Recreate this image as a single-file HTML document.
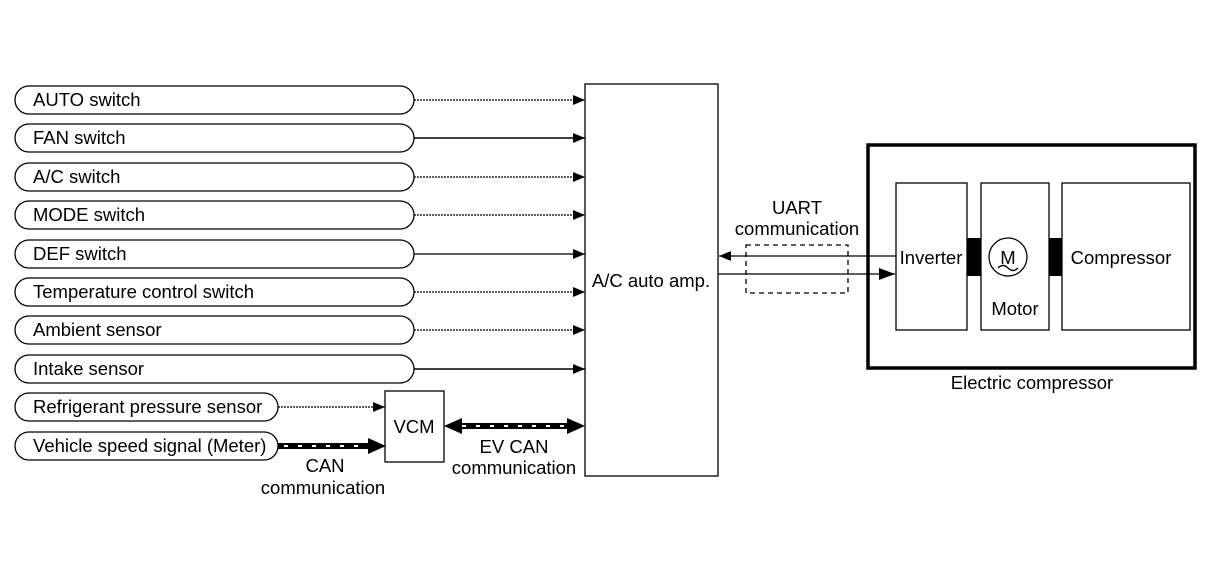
<!DOCTYPE html>
<html><head><style>body{margin:0;background:#fff}svg{display:block}text{font-family:"Liberation Sans",Arial,sans-serif;font-size:18.5px;fill:#000}</style></head>
<body>
<svg width="1216" height="582" viewBox="0 0 1216 582" xmlns="http://www.w3.org/2000/svg">
<defs>
<marker id="a" markerWidth="12" markerHeight="10" refX="12" refY="5" orient="auto" markerUnits="userSpaceOnUse"><path d="M0,0L12,5L0,10z" fill="#000"/></marker>
<marker id="b" markerWidth="16" markerHeight="12" refX="16" refY="6" orient="auto" markerUnits="userSpaceOnUse"><path d="M0,0L16,6L0,12z" fill="#000"/></marker>
</defs>
<g fill="none" stroke="#000" stroke-width="1.3">
<rect x="15" y="86" width="399" height="28" rx="14"/>
<rect x="15" y="124" width="399" height="28" rx="14"/>
<rect x="15" y="163" width="399" height="28" rx="14"/>
<rect x="15" y="201" width="399" height="28" rx="14"/>
<rect x="15" y="240" width="399" height="28" rx="14"/>
<rect x="15" y="278" width="399" height="28" rx="14"/>
<rect x="15" y="316" width="399" height="28" rx="14"/>
<rect x="15" y="355" width="399" height="28" rx="14"/>
<rect x="15" y="393" width="263" height="28" rx="14"/>
<rect x="15" y="432" width="263" height="28" rx="14"/>
</g>
<g stroke="#000" stroke-width="1.2" marker-end="url(#a)">
<line x1="414" y1="100" x2="585" y2="100" stroke-dasharray="2,1"/>
<line x1="414" y1="138" x2="585" y2="138" stroke-width="1.6"/>
<line x1="414" y1="177" x2="585" y2="177" stroke-dasharray="2,1"/>
<line x1="414" y1="215" x2="585" y2="215" stroke-dasharray="2,1"/>
<line x1="414" y1="254" x2="585" y2="254"/>
<line x1="414" y1="292" x2="585" y2="292" stroke-dasharray="2,1"/>
<line x1="414" y1="330" x2="585" y2="330" stroke-dasharray="2,1"/>
<line x1="414" y1="369" x2="585" y2="369" stroke-width="1.6"/>
<line x1="278" y1="407" x2="385" y2="407" stroke-dasharray="2,1"/>
</g>
<line x1="278" y1="446" x2="372" y2="446" stroke="#000" stroke-width="6"/>
<line x1="284" y1="446" x2="372" y2="446" stroke="#fff" stroke-width="2" stroke-dasharray="4,10"/>
<path d="M368,438L386,446L368,454z"/>
<line x1="458" y1="426" x2="571" y2="426" stroke="#000" stroke-width="6"/>
<line x1="462" y1="426" x2="571" y2="426" stroke="#fff" stroke-width="2" stroke-dasharray="4,10"/>
<path d="M462,418L444,426L462,434z"/><path d="M567,418L585,426L567,434z"/>
<g fill="none" stroke="#000" stroke-width="1.3">
<rect x="585" y="84" width="133" height="392"/>
<rect x="385" y="391" width="59" height="71"/>
<rect x="868" y="145" width="327" height="223" stroke-width="3.5"/>
<rect x="896" y="183" width="71" height="147"/>
<rect x="981" y="183" width="68" height="147"/>
<rect x="1062" y="183" width="128" height="147"/>
<circle cx="1008" cy="257" r="19"/>
<path d="M998,268q5,-5 10,0t10,0"/>
<rect x="746" y="245" width="102" height="48" stroke-dasharray="5,4"/>
</g>
<rect x="967" y="238" width="14" height="38"/>
<rect x="1049" y="238" width="13" height="38"/>
<line x1="896" y1="256" x2="719" y2="256" stroke="#000" stroke-width="1.2" marker-end="url(#a)"/>
<line x1="718" y1="274" x2="895" y2="274" stroke="#000" stroke-width="1.2" marker-end="url(#b)"/>
<text x="33" y="106">AUTO switch</text>
<text x="33" y="144">FAN switch</text>
<text x="33" y="183">A/C switch</text>
<text x="33" y="221">MODE switch</text>
<text x="33" y="260">DEF switch</text>
<text x="33" y="298">Temperature control switch</text>
<text x="33" y="336">Ambient sensor</text>
<text x="33" y="375">Intake sensor</text>
<text x="33" y="413">Refrigerant pressure sensor</text>
<text x="33" y="452">Vehicle speed signal (Meter)</text>
<text x="414" y="433" text-anchor="middle">VCM</text>
<text x="325" y="472" text-anchor="middle">CAN</text>
<text x="323" y="494" text-anchor="middle">communication</text>
<text x="514" y="453" text-anchor="middle">EV CAN</text>
<text x="514" y="474" text-anchor="middle">communication</text>
<text x="651" y="287" text-anchor="middle">A/C auto amp.</text>
<text x="797" y="214" text-anchor="middle">UART</text>
<text x="797" y="235" text-anchor="middle">communication</text>
<text x="931" y="264" text-anchor="middle">Inverter</text>
<text x="1008" y="264" text-anchor="middle">M</text>
<text x="1015" y="315" text-anchor="middle">Motor</text>
<text x="1121" y="264" text-anchor="middle">Compressor</text>
<text x="1032" y="389" text-anchor="middle">Electric compressor</text>
</svg>
</body></html>
